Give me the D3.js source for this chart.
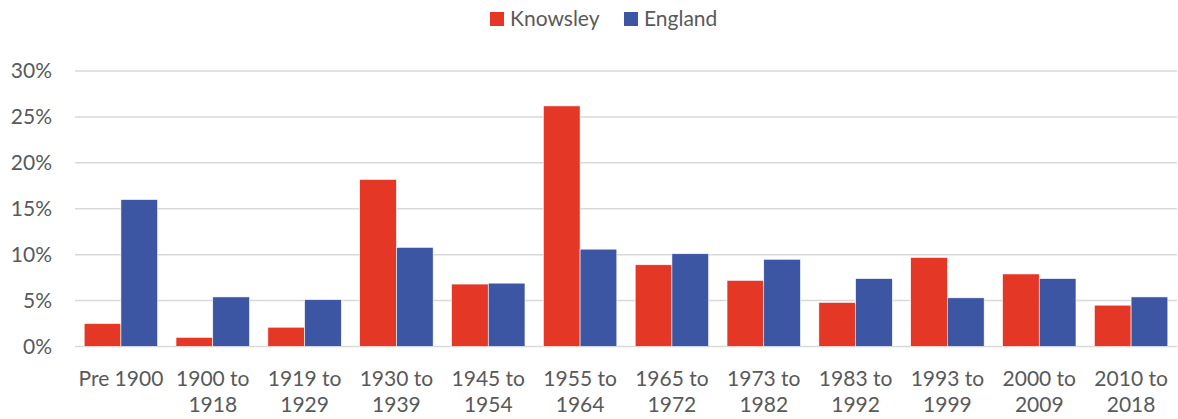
<!DOCTYPE html>
<meta charset="utf-8" />
<html>
<head>
<title>Knowsley vs England dwelling age</title>
<script src="https://cdn.jsdelivr.net/npm/d3@7"></script>
<style>
  body { margin: 0; background: #fff; }
  text { font-family: Lato, "Open Sans", sans-serif; fill: #595959; }
</style>
</head>
<body>
<div id="viz"></div>
<script>

var categories = [["Pre 1900"], ["1900 to", "1918"], ["1919 to", "1929"], ["1930 to", "1939"],
  ["1945 to", "1954"], ["1955 to", "1964"], ["1965 to", "1972"], ["1973 to", "1982"],
  ["1983 to", "1992"], ["1993 to", "1999"], ["2000 to", "2009"], ["2010 to", "2018"]];
var knowsley = [2.5, 1.0, 2.1, 18.2, 6.8, 26.2, 8.9, 7.2, 4.8, 9.7, 7.9, 4.5];
var england = [16.0, 5.4, 5.1, 10.8, 6.9, 10.6, 10.1, 9.5, 7.4, 5.3, 7.4, 5.4];
var seriesNames = ["Knowsley", "England"];
var seriesColors = ["#e43726", "#3c56a3"];
var yTicks = [0, 5, 10, 15, 20, 25, 30];

var width = 1178, height = 419;
var svg = d3.select("#viz").append("svg")
    .attr("width", width)
    .attr("height", height);

var plotLeft = 75, plotRight = 1177, plotTop = 71, plotBottom = 346.5;

var x0 = d3.scaleBand().domain(d3.range(categories.length)).range([plotLeft, plotRight]).paddingInner(0.2).paddingOuter(0.1);
var x1 = d3.scaleBand().domain(d3.range(2)).range([0, x0.bandwidth()]);
var y = d3.scaleLinear().domain([0, 30]).range([plotBottom, plotTop]);

// gridlines
svg.append("g").selectAll("line")
  .data(yTicks)
  .enter().append("line")
  .attr("x1", plotLeft).attr("x2", plotRight)
  .attr("y1", function(d) { return y(d); })
  .attr("y2", function(d) { return y(d); })
  .style("stroke", "#d9d9d9")
  .style("stroke-width", 1.5);

// y labels
svg.append("g").selectAll("text")
  .data(yTicks)
  .enter().append("text")
  .attr("x", 52)
  .attr("y", function(d) { return y(d); })
  .attr("dy", "0.35em")
  .attr("text-anchor", "end")
  .style("font-size", "21px")
  .text(function(d) { return d + "%"; });

// bars
var groups = svg.append("g").selectAll("g")
  .data(categories)
  .enter().append("g")
  .attr("transform", function(d, i) { return "translate(" + x0(i) + ",0)"; });

groups.selectAll("rect")
  .data(function(d, i) { return [knowsley[i], england[i]]; })
  .enter().append("rect")
  .attr("x", function(d, j) { return x1(j); })
  .attr("width", x1.bandwidth())
  .attr("y", function(d) { return y(d); })
  .attr("height", function(d) { return y(0) - y(d); })
  .style("fill", function(d, j) { return seriesColors[j]; })
  .style("stroke", "#fff")
  .style("stroke-width", 0.6);

// x labels
groups.selectAll("text")
  .data(function(d) { return d; })
  .enter().append("text")
  .attr("x", x0.bandwidth() / 2)
  .attr("y", function(d, k) { return 386 + k * 26; })
  .attr("text-anchor", "middle")
  .style("font-size", "21px")
  .text(function(d) { return d; });

// legend
var legendX = [490, 624];
var legend = svg.append("g").selectAll("g")
  .data(seriesNames)
  .enter().append("g")
  .attr("transform", function(d, i) { return "translate(" + legendX[i] + ",12)"; });
legend.append("rect")
  .attr("width", 14).attr("height", 14)
  .style("fill", function(d, i) { return seriesColors[i]; });
legend.append("text")
  .attr("x", 20).attr("y", 7).attr("dy", "0.35em")
  .style("font-size", "21px")
  .text(function(d) { return d; });

</script>
</body>
</html>
